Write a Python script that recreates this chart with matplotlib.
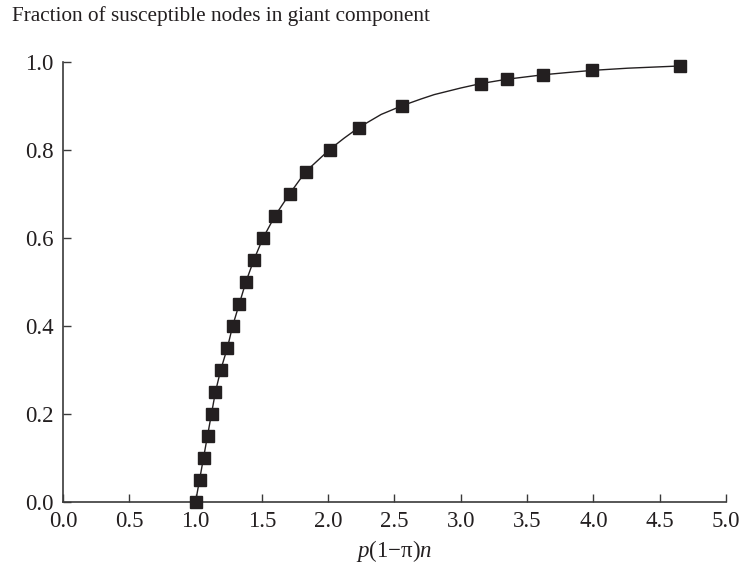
import matplotlib
matplotlib.use("Agg")
import matplotlib.pyplot as plt

# Marker data
x_pts = [1.00, 1.03, 1.06, 1.09, 1.12, 1.15, 1.19, 1.24, 1.28, 1.33, 1.38,
         1.44, 1.51, 1.60, 1.71, 1.83, 2.01, 2.23, 2.56, 3.15, 3.35, 3.62,
         3.99, 4.65]
y_pts = [0.00, 0.05, 0.10, 0.15, 0.20, 0.25, 0.30, 0.35, 0.40, 0.45, 0.50,
         0.55, 0.60, 0.65, 0.70, 0.75, 0.80, 0.85, 0.90, 0.95, 0.96, 0.97,
         0.98, 0.99]

# Smooth curve passes through markers; a few extra read points in the gaps
x_line = [1.00, 1.03, 1.06, 1.09, 1.12, 1.15, 1.19, 1.24, 1.28, 1.33, 1.38,
          1.44, 1.51, 1.60, 1.71, 1.83, 2.01, 2.12, 2.23, 2.40, 2.56, 2.70,
          2.80, 3.00, 3.15, 3.35, 3.62, 3.80, 3.99, 4.26, 4.65]
y_line = [0.00, 0.05, 0.10, 0.15, 0.20, 0.25, 0.30, 0.35, 0.40, 0.45, 0.50,
          0.55, 0.60, 0.65, 0.70, 0.75, 0.80, 0.826, 0.85, 0.88, 0.90, 0.915,
          0.925, 0.94, 0.95, 0.96, 0.97, 0.975, 0.98, 0.985, 0.99]

x_ticks = [0.0, 0.5, 1.0, 1.5, 2.0, 2.5, 3.0, 3.5, 4.0, 4.5, 5.0]
y_ticks = [0.0, 0.2, 0.4, 0.6, 0.8, 1.0]

plt.rcParams['font.family'] = ['Liberation Serif', 'DejaVu Serif']
plt.rcParams['mathtext.fontset'] = 'custom'
plt.rcParams['mathtext.rm'] = 'Liberation Serif'
plt.rcParams['mathtext.it'] = 'Liberation Serif:italic'
plt.rcParams['xtick.direction'] = 'in'
plt.rcParams['ytick.direction'] = 'in'

fig = plt.figure(figsize=(7.42, 5.65), dpi=100)
ax = fig.add_axes([0.0849, 0.112, 0.8935, 0.779])

ink = '#231f20'
ax.plot(x_line, y_line, color=ink, lw=1.0, zorder=2)
ax.plot(x_pts, y_pts, linestyle='none', marker='s', markersize=8.6,
        color=ink, markeredgecolor=ink, zorder=3, clip_on=False)

ax.set_xlim(0, 5)
ax.set_ylim(0, 1)
ax.set_xticks(x_ticks)
ax.set_yticks(y_ticks)
ax.set_xticklabels([f"{t:.1f}" for t in x_ticks])
ax.set_yticklabels([f"{t:.1f}" for t in y_ticks])

for s in ['top', 'right']:
    ax.spines[s].set_visible(False)
for s in ['left', 'bottom']:
    ax.spines[s].set_color('#3a3a3a')
    ax.spines[s].set_linewidth(1.2)

ax.tick_params(axis='both', direction='in', length=6, width=1.0,
               color='#3a3a3a', labelsize=16.5, labelcolor=ink)
ax.tick_params(axis='x', pad=7)
ax.tick_params(axis='y', pad=7)

ax.set_xlabel(r'$p$(1$-$π)$n$', fontsize=16.5, color=ink, labelpad=4)
fig.text(0.016, 0.971, 'Fraction of susceptible nodes in giant component',
         fontsize=15.3, color=ink, ha='left', va='center')

fig.savefig('out.png', dpi=100)
